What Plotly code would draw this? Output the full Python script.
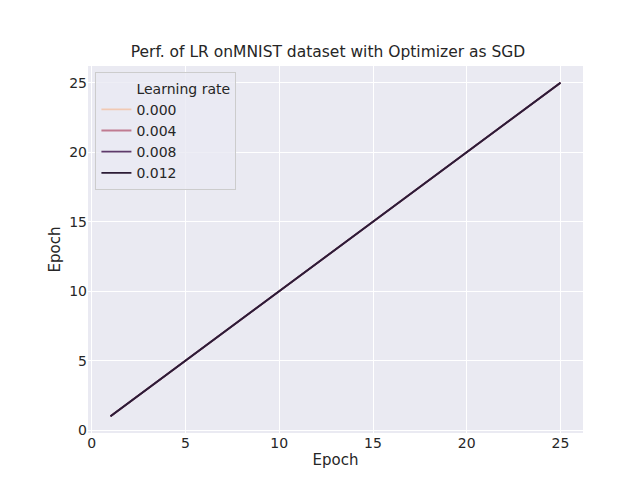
import plotly.graph_objects as go

epochs = list(range(1, 26))
learning_rates = ["0.000", "0.004", "0.008", "0.012"]
colors = ["#f1c9b3", "#c07b91", "#5e3a6a", "#2c1c36"]
epoch_values = {lr: list(range(1, 26)) for lr in learning_rates}

fig = go.Figure()
fig.add_trace(go.Scatter(x=[None], y=[None], mode="lines", name="Learning rate",
                         line=dict(color="rgba(0,0,0,0)")))
for lr, c in zip(learning_rates, colors):
    fig.add_trace(go.Scatter(x=epochs, y=epoch_values[lr], mode="lines", name=lr,
                             line=dict(color=c, width=1.8)))

fig.update_layout(
    width=640, height=480,
    paper_bgcolor="white", plot_bgcolor="#EAEAF2",
    font=dict(family="DejaVu Sans", size=14, color="#262626"),
    title=dict(text="Perf. of LR onMNIST dataset with Optimizer as SGD", x=0.5, xanchor="center",
               y=0.91, yanchor="middle", font=dict(size=15.5), automargin=False),
    margin=dict(l=80, r=65, t=58, b=55, autoexpand=False),
    xaxis=dict(title=dict(text="Epoch", standoff=4, font=dict(size=15)), range=[-0.2, 26.2],
               tickvals=[0, 5, 10, 15, 20, 25], tickfont=dict(size=14), automargin=False,
               gridcolor="white", gridwidth=1.3, zeroline=False, showline=False, ticks=""),
    yaxis=dict(title=dict(text="Epoch", standoff=4, font=dict(size=15)), range=[-0.2, 26.2],
               tickvals=[0, 5, 10, 15, 20, 25], tickfont=dict(size=14), automargin=False,
               gridcolor="white", gridwidth=1.3, zeroline=False, showline=False, ticks=""),
    legend=dict(x=0.015, y=0.985, xanchor="left", yanchor="top", bgcolor="rgba(234,234,242,0.8)",
                bordercolor="#cccccc", borderwidth=1, font=dict(size=14), tracegroupgap=0),
    showlegend=True,
)
fig.write_html("out.html")
